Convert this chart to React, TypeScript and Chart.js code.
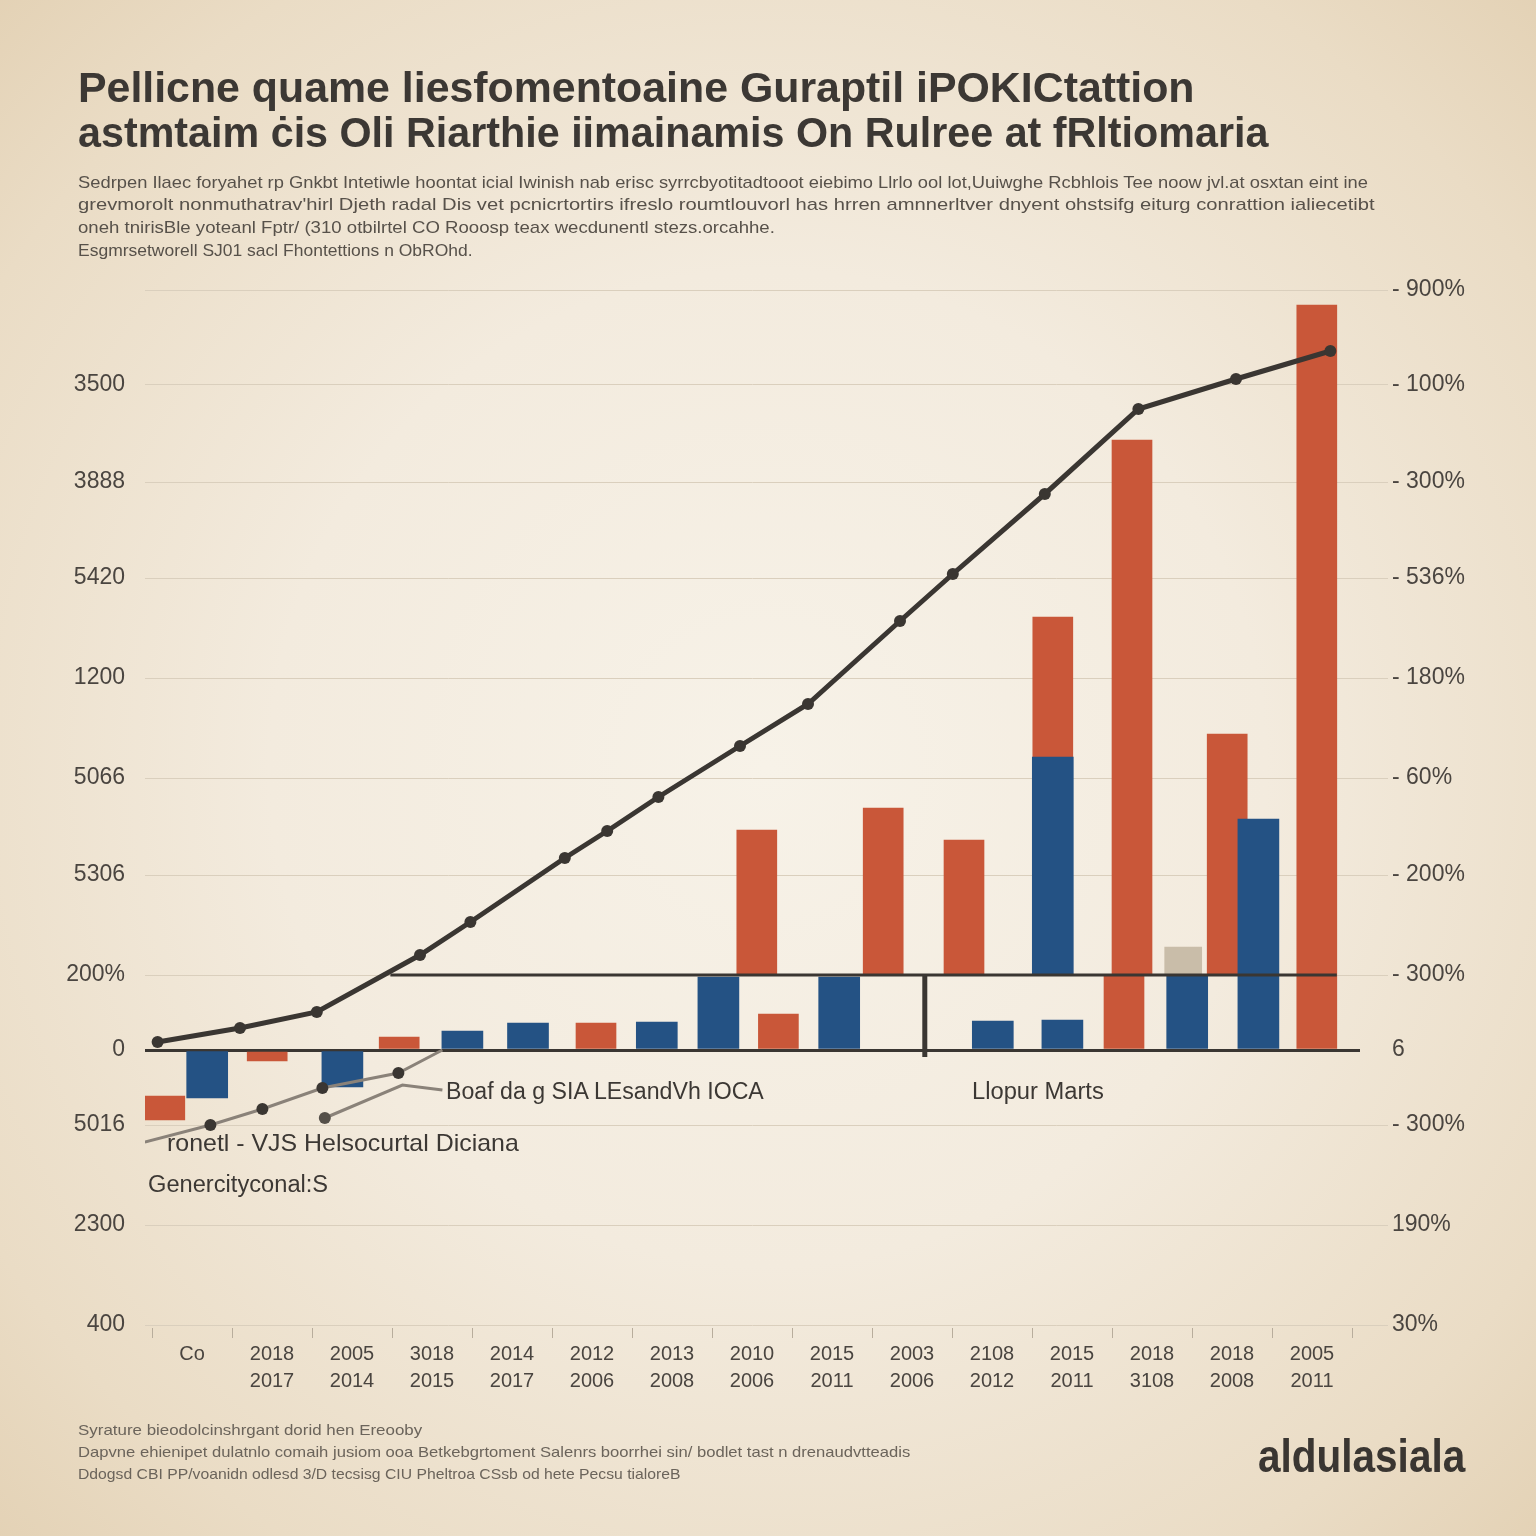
import React, { useEffect, useLayoutEffect, useRef, useState } from "react";
import { Chart, registerables } from "chart.js";

Chart.register(...registerables);

// ---------- DATA ----------
const xLabelTop = ["Co", "2018", "2005", "3018", "2014", "2012", "2013", "2010", "2015", "2003", "2108", "2015", "2018", "2018", "2005"];
const xLabelBottom = ["", "2017", "2014", "2015", "2017", "2006", "2008", "2006", "2011", "2006", "2012", "2011", "3108", "2008", "2011"];

const yTickValues = [-275, -175, -75, 0, 75, 175, 272, 372, 472, 568, 665, 760];
const leftTickLabels = ["400", "2300", "5016", "0", "200%", "5306", "5066", "1200", "5420", "3888", "3500", ""];
const rightTickLabels = ["30%", "190%", "- 300%", "6", "- 300%", "- 200%", "- 60%", "- 180%", "- 536%", "- 300%", "- 100%", "- 900%"];

const redBarX = [-0.34, 0.94, 2.59, 5.05, 7.06, 7.33, 8.64, 9.65, 10.76, 11.75, 11.65, 12.94, 14.06];
const redBarRange = [[-46, -70], [-2, -11], [0, 13], [0, 27], [75, 220], [0, 36], [75, 242], [75, 210], [293, 433], [75, 610], [0, 75], [75, 316], [0, 745]];

const blueBarX = [0.19, 1.88, 3.38, 4.2, 5.81, 6.58, 8.09, 10.01, 10.88, 10.76, 12.44, 13.33];
const blueBarRange = [[0, -48], [0, -37], [0, 19], [0, 27], [0, 28], [0, 73], [0, 73], [0, 29], [0, 30], [75, 293], [0, 75], [0, 231]];

const tanBarX = [12.39];
const tanBarRange = [[75, 103]];

const mainLineX = [-0.43, 0.6, 1.56, 2.85, 3.48, 4.66, 5.19, 5.83, 6.85, 7.7, 8.85, 9.51, 10.66, 11.83, 13.05, 14.23];
const mainLineY = [8, 22, 38, 95, 128, 192, 219, 253, 304, 346, 429, 476, 556, 641, 671, 699];

const lowerLineAX = [-0.59, 0.23, 0.88, 1.63, 2.58, 3.13];
const lowerLineAY = [-92, -75, -59, -38, -23, 0];

const lowerLineBX = [1.66, 2.63, 3.13];
const lowerLineBY = [-68, -35, -40];

const shelfLineX = [2.48, 14.31];
const shelfLineY = [75, 75];

const dividerX = [9.16, 9.16];
const dividerY = [75, -7];

// ---------- TEXT ----------
const titleLines = [
  "Pellicne quame liesfomentoaine Guraptil iPOKICtattion",
  "astmtaim ċis Oli Riarthie iimainamis On Rulree at fRltiomaria",
];
const subtitleLines = [
  "Sedrpen Ilaec foryahet rp Gnkbt Intetiwle hoontat icial Iwinish nab erisc syrrcbyotitadtooot eiebimo Llrlo ool lot,Uuiwghe Rcbhlois Tee noow jvl.at osxtan eint ine",
  "grevmorolt nonmuthatrav'hirl Djeth radal Dis vet pcnicrtortirs ifreslo roumtlouvorl has hrren amnnerltver dnyent ohstsifg eiturg conrattion ialiecetibt",
  "oneh tnirisBle yoteanl Fptr/ (310 otbilrtel CO Rooosp teax wecdunentl stezs.orcahhe.",
  "Esgmrsetworell SJ01 sacl Fhontettions n ObROhd.",
];
const footerLines = [
  "Syrature bieodolcinshrgant dorid hen Ereooby",
  "Dapvne ehienipet dulatnlo comaih jusiom ooa Betkebgrtoment Salenrs boorrhei sin/ bodlet tast n drenaudvtteadis",
  "Ddogsd CBI PP/voanidn odlesd 3/D tecsisg CIU Pheltroa CSsb od hete Pecsu tialoreB",
];
const annotationTexts = [
  "Boaf da g  SIA LEsandVh IOCA",
  "Llopur Marts",
  "ronetl - VJS Helsocurtal Diciana",
  "Genercityconal:S",
];
const logoText = "aldulasiala";

const DARK = "#3a3632";
const RED = "#c95739";
const BLUE = "#245284";
const TAN = "#c9bda9";
const GRID = "#dacfbd";
const GRAYLINE = "#8a8279";
const FONT = "'Liberation Sans', Arial, sans-serif";

type TextItem = {
  text: string;
  x: number;
  baseline: number;
  width: number;
  size: number;
  weight: number;
  color: string;
};

const textItems: TextItem[] = [
  { text: titleLines[0], x: 78, baseline: 103, width: 1117, size: 42, weight: 700, color: "#3c3834" },
  { text: titleLines[1], x: 78, baseline: 148, width: 1190, size: 42, weight: 700, color: "#3c3834" },
  { text: subtitleLines[0], x: 78, baseline: 188, width: 1290, size: 17, weight: 400, color: "#57514a" },
  { text: subtitleLines[1], x: 78, baseline: 210, width: 1297, size: 17, weight: 400, color: "#57514a" },
  { text: subtitleLines[2], x: 78, baseline: 233, width: 697, size: 17, weight: 400, color: "#57514a" },
  { text: subtitleLines[3], x: 78, baseline: 256, width: 395, size: 17, weight: 400, color: "#57514a" },
  { text: annotationTexts[0], x: 446, baseline: 1099, width: 318, size: 23, weight: 400, color: "#3c3834" },
  { text: annotationTexts[1], x: 972, baseline: 1099, width: 132, size: 23, weight: 400, color: "#3c3834" },
  { text: annotationTexts[2], x: 167, baseline: 1151, width: 352, size: 24, weight: 400, color: "#3c3834" },
  { text: annotationTexts[3], x: 148, baseline: 1192, width: 180, size: 23, weight: 400, color: "#3c3834" },
  { text: footerLines[0], x: 78, baseline: 1435, width: 344, size: 15, weight: 400, color: "#6b645b" },
  { text: footerLines[1], x: 78, baseline: 1457, width: 832, size: 15, weight: 400, color: "#6b645b" },
  { text: footerLines[2], x: 78, baseline: 1479, width: 602, size: 15, weight: 400, color: "#6b645b" },
  { text: logoText, x: 1258, baseline: 1472, width: 207, size: 46, weight: 700, color: "#3a3632" },
];

function FitText({ item }: { item: TextItem }) {
  const ref = useRef<HTMLDivElement>(null);
  const [sx, setSx] = useState(1);
  useLayoutEffect(() => {
    const el = ref.current;
    if (!el) return;
    const w = el.offsetWidth;
    if (w > 0) setSx(item.width / w);
  }, [item.text, item.width]);
  return (
    <div
      ref={ref}
      style={{
        position: "absolute",
        left: item.x,
        top: item.baseline - 0.8465 * item.size,
        width: "max-content",
        fontFamily: FONT,
        fontSize: item.size,
        fontWeight: item.weight,
        color: item.color,
        lineHeight: "1",
        whiteSpace: "nowrap",
        transform: `scaleX(${sx})`,
        transformOrigin: "0 0",
      }}
    >
      {item.text}
    </div>
  );
}

const xTickMarks = {
  id: "xTickMarks",
  afterDraw(chart: any) {
    const { ctx, chartArea } = chart;
    const xs = chart.scales.x;
    ctx.save();
    ctx.strokeStyle = "#b8ad9c";
    ctx.lineWidth = 1;
    for (let i = 0; i <= xLabelTop.length; i++) {
      const px = Math.round(xs.getPixelForValue(i - 0.5)) + 0.5;
      ctx.beginPath();
      ctx.moveTo(px, chartArea.bottom + 3);
      ctx.lineTo(px, chartArea.bottom + 13);
      ctx.stroke();
    }
    ctx.restore();
  },
};

const pts = (xs: number[], ys: number[]) => xs.map((x, i) => ({ x, y: ys[i] }));
const rng = (xs: number[], rs: number[][]) => xs.map((x, i) => ({ x, y: rs[i] }));

export default function App() {
  const canvasRef = useRef<HTMLCanvasElement>(null);

  useEffect(() => {
    const canvas = canvasRef.current;
    if (!canvas) return;
    const tickFont = { family: FONT, size: 23 };
    const chart = new Chart(canvas, {
      type: "bar",
      data: {
        datasets: [
          {
            type: "line",
            label: "Main",
            data: pts(mainLineX, mainLineY),
            borderColor: DARK,
            borderWidth: 5,
            pointRadius: 6,
            pointBackgroundColor: DARK,
            pointBorderWidth: 0,
            tension: 0,
            order: 0,
          } as any,
          {
            type: "line",
            label: "Lower A",
            data: pts(lowerLineAX, lowerLineAY),
            borderColor: GRAYLINE,
            borderWidth: 3,
            pointRadius: (c: any) => (c.dataIndex === 0 || c.dataIndex === lowerLineAX.length - 1 ? 0 : 6),
            pointBackgroundColor: DARK,
            pointBorderWidth: 0,
            tension: 0,
            order: 1,
          } as any,
          {
            type: "line",
            label: "Lower B",
            data: pts(lowerLineBX, lowerLineBY),
            borderColor: GRAYLINE,
            borderWidth: 3,
            pointRadius: (c: any) => (c.dataIndex === 0 ? 6 : 0),
            pointBackgroundColor: "#555049",
            pointBorderWidth: 0,
            tension: 0,
            order: 1,
          } as any,
          {
            type: "line",
            label: "Shelf",
            data: pts(shelfLineX, shelfLineY),
            borderColor: DARK,
            borderWidth: 3,
            pointRadius: 0,
            order: 1,
          } as any,
          {
            type: "line",
            label: "Divider",
            data: pts(dividerX, dividerY),
            borderColor: DARK,
            borderWidth: 5,
            pointRadius: 0,
            order: 1,
          } as any,
          {
            label: "Red",
            data: rng(redBarX, redBarRange),
            backgroundColor: RED,
            barThickness: 40,
            grouped: false,
            order: 3,
          } as any,
          {
            label: "Blue",
            data: rng(blueBarX, blueBarRange),
            backgroundColor: BLUE,
            barThickness: 41,
            grouped: false,
            order: 2,
          } as any,
          {
            label: "Tan",
            data: rng(tanBarX, tanBarRange),
            backgroundColor: TAN,
            barThickness: 37,
            grouped: false,
            order: 4,
          } as any,
        ],
      },
      options: {
        responsive: false,
        animation: false,
        devicePixelRatio: 1,
        layout: { padding: { top: 290, left: 0, right: 0, bottom: 0 } },
        plugins: {
          legend: { display: false },
          tooltip: { enabled: false },
          title: { display: false },
        },
        scales: {
          x: {
            type: "linear",
            position: "bottom",
            min: -0.5875,
            max: 14.6,
            offset: false,
            afterBuildTicks: (s: any) => {
              s.ticks = xLabelTop.map((_, i) => ({ value: i }));
            },
            afterFit: (s: any) => {
              s.height = 211;
            },
            ticks: {
              autoSkip: false,
              maxRotation: 0,
              minRotation: 0,
              padding: 16,
              color: "#4a4540",
              font: { family: FONT, size: 20, lineHeight: 1.35 },
              callback: (_v: any, i: number) =>
                xLabelBottom[i] ? [xLabelTop[i], xLabelBottom[i]] : xLabelTop[i],
            },
            grid: { display: false, drawTicks: false },
            border: { display: false },
          },
          y: {
            type: "linear",
            position: "left",
            min: -275,
            max: 760,
            afterBuildTicks: (s: any) => {
              s.ticks = yTickValues.map((v) => ({ value: v }));
            },
            afterFit: (s: any) => {
              s.width = 145;
            },
            ticks: {
              padding: 20,
              color: "#4a4540",
              font: tickFont,
              callback: (_v: any, i: number) => leftTickLabels[i],
            },
            grid: {
              drawTicks: false,
              color: (c: any) => (c.tick && c.tick.value === 0 ? DARK : GRID),
              lineWidth: (c: any) => (c.tick && c.tick.value === 0 ? 3 : 1),
            },
            border: { display: false },
          },
          y2: {
            type: "linear",
            position: "right",
            min: -275,
            max: 760,
            afterBuildTicks: (s: any) => {
              s.ticks = yTickValues.map((v) => ({ value: v }));
            },
            afterFit: (s: any) => {
              s.width = 176;
            },
            ticks: {
              padding: 4,
              color: "#4a4540",
              font: tickFont,
              callback: (_v: any, i: number) => rightTickLabels[i],
            },
            grid: {
              drawOnChartArea: false,
              drawTicks: true,
              tickLength: 28,
              color: (c: any) => (c.tick && c.tick.value === 0 ? "rgba(0,0,0,0)" : GRID),
            },
            border: { display: false },
          },
        },
      } as any,
      plugins: [xTickMarks],
    });
    return () => chart.destroy();
  }, []);

  return (
    <div
      style={{
        position: "fixed",
        left: 0,
        top: 0,
        width: 1536,
        height: 1536,
        overflow: "hidden",
        background:
          "radial-gradient(ellipse 72% 72% at 50% 50%, #f7f2e8 0%, #f3ebde 45%, #eadcc5 82%, #e3d1b4 100%)",
      }}
    >
      <canvas ref={canvasRef} width={1536} height={1536} style={{ position: "absolute", left: 0, top: 0 }} />
      {textItems.map((t, i) => (
        <FitText key={i} item={t} />
      ))}
    </div>
  );
}
